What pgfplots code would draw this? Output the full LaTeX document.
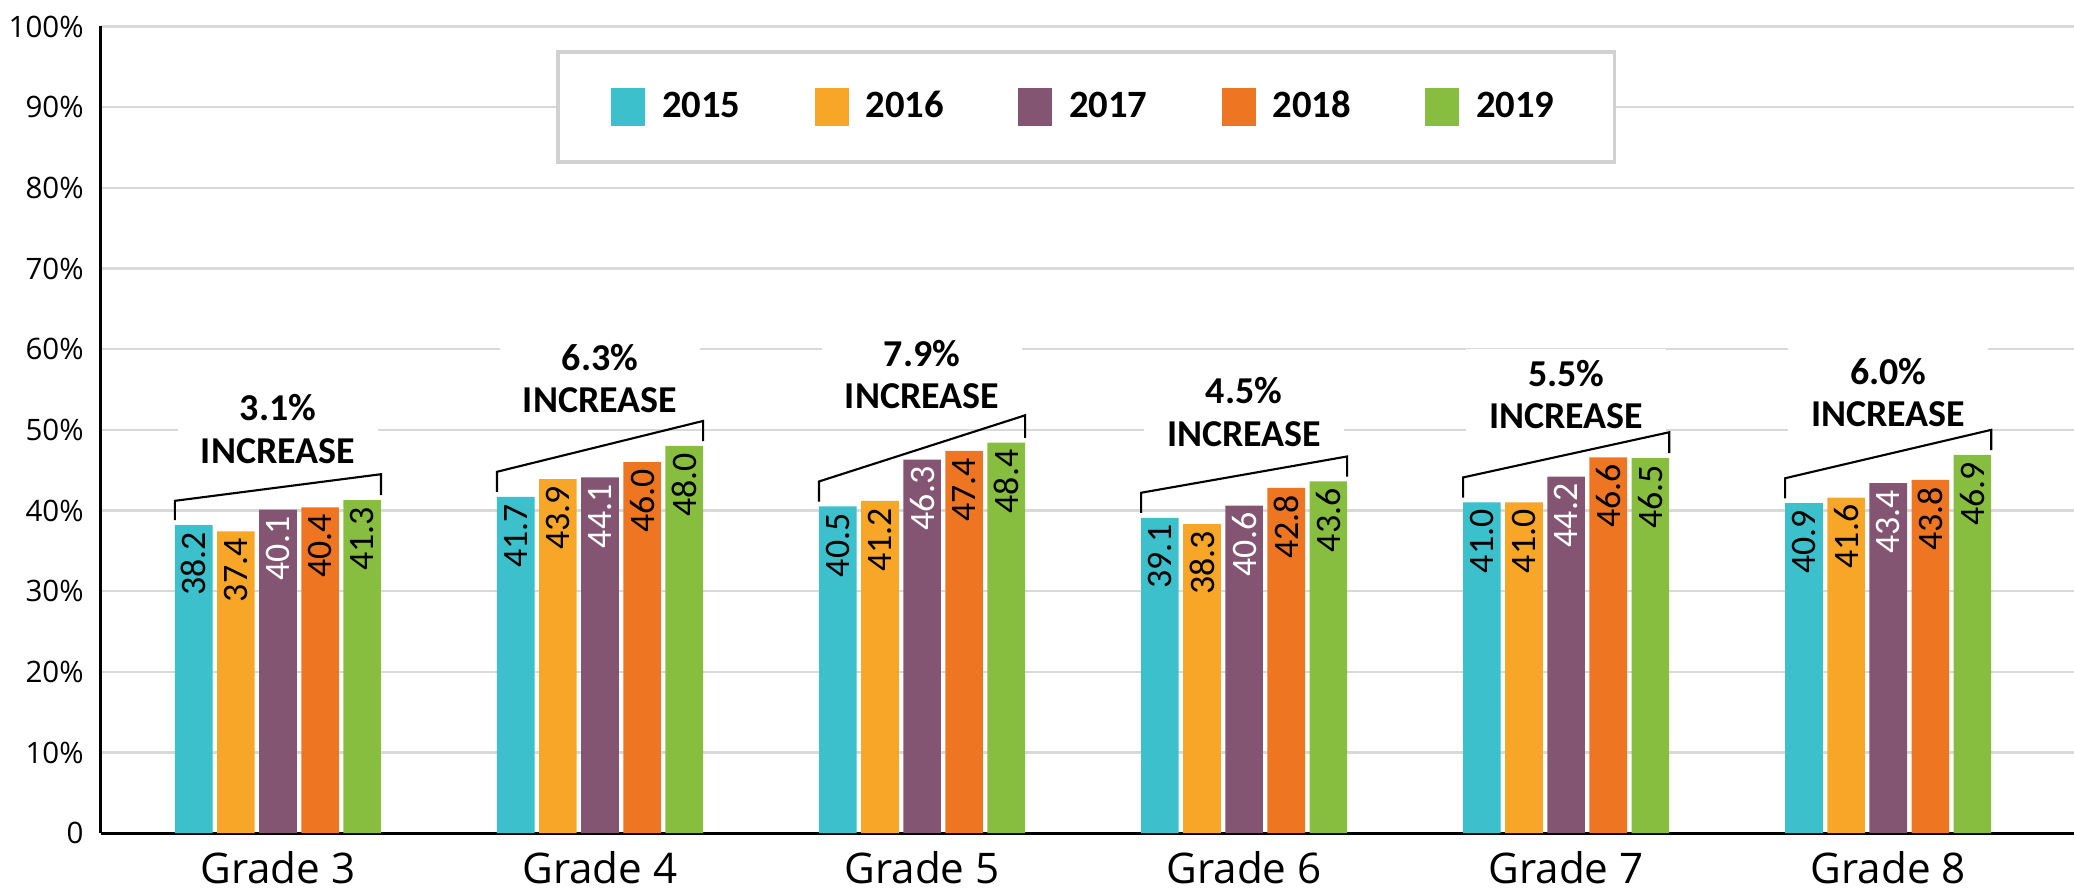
\documentclass[border=0pt]{standalone}
\usepackage{fontspec}
\setmainfont{Open Sans}
\newfontfamily\carl{Carlito}
\usepackage{pgfplots}
\pgfplotsset{compat=1.18}
\definecolor{c15}{HTML}{3BC0CC}
\definecolor{c16}{HTML}{F8A628}
\definecolor{c17}{HTML}{835572}
\definecolor{c18}{HTML}{EE7623}
\definecolor{c19}{HTML}{88BE3F}
\begin{document}
\begin{tikzpicture}
\begin{axis}[
  scale only axis, width=19.73cm, height=8.065cm,
  xmin=-0.551, xmax=5.577, ymin=0, ymax=100,
  ybar=0.45mm, bar width=3.76mm,
  axis x line=bottom, axis y line=left,
  axis line style={-, black, line width=0.9pt},
  xtick={0,1,2,3,4,5},
  xticklabels={Grade 3,Grade 4,Grade 5,Grade 6,Grade 7,Grade 8},
  ytick={0,10,...,100},
  yticklabels={0,10\%,20\%,30\%,40\%,50\%,60\%,70\%,80\%,90\%,100\%},
  major tick length=0pt,
  ymajorgrids, grid style={black!15, line width=0.6pt},
  xticklabel style={font=\fontsize{12}{14}\selectfont, yshift=-0.6mm},
  yticklabel style={font=\fontsize{8.4}{10}\selectfont, xshift=-0.45mm},
  nodes near coords={\pgfmathprintnumber[fixed,fixed zerofill,precision=1,assume math mode=true]{\pgfplotspointmeta}},
  every node near coord/.append style={rotate=90, anchor=east, font=\carl\fontsize{10.2}{11}\selectfont, inner sep=1.8pt, text=black},
  legend columns=5,
  legend image code/.code={\fill[#1] (0cm,-0.19cm) rectangle (0.34cm,0.19cm); \path (0.44cm,0);},
  legend style={at={(0.4995,0.9)}, anchor=center, draw=black!18, line width=1pt, fill=white,
    font=\carl\bfseries\fontsize{11}{12}\selectfont, inner xsep=5.3mm, inner ysep=3.2mm,
    /tikz/every even column/.append style={column sep=6.7mm}},
]
\addplot[fill=c15, draw=none] coordinates {(0,38.2) (1,41.7) (2,40.5) (3,39.1) (4,41.0) (5,40.9)};
\addplot[fill=c16, draw=none] coordinates {(0,37.4) (1,43.9) (2,41.2) (3,38.3) (4,41.0) (5,41.6)};
\addplot[fill=c17, draw=none, every node near coord/.append style={text=white}] coordinates {(0,40.1) (1,44.1) (2,46.3) (3,40.6) (4,44.2) (5,43.4)};
\addplot[fill=c18, draw=none] coordinates {(0,40.4) (1,46.0) (2,47.4) (3,42.8) (4,46.6) (5,43.8)};
\addplot[fill=c19, draw=none] coordinates {(0,41.3) (1,48.0) (2,48.4) (3,43.6) (4,46.5) (5,46.9)};
\legend{2015,2016,2017,2018,2019}
\tikzset{inc/.style={fill=white, text width=2.0cm, align=center, inner xsep=0pt, inner ysep=3pt,
  font=\carl\bfseries\fontsize{10.8}{12}\selectfont}}
\node[inc] at (axis cs:0,50.1) {3.1\%\\INCREASE};
\node[inc] at (axis cs:1,56.4) {6.3\%\\INCREASE};
\node[inc] at (axis cs:2,56.9) {7.9\%\\INCREASE};
\node[inc] at (axis cs:3,52.2) {4.5\%\\INCREASE};
\node[inc] at (axis cs:4,54.4) {5.5\%\\INCREASE};
\node[inc] at (axis cs:5,54.6) {6.0\%\\INCREASE};
\draw[line width=0.6pt] (axis cs:-0.32,38.8)--(axis cs:-0.32,41.2)--(axis cs:0.32,44.5)--(axis cs:0.32,41.9);
\draw[line width=0.6pt] (axis cs:0.68,42.3)--(axis cs:0.68,44.8)--(axis cs:1.32,51.1)--(axis cs:1.32,48.6);
\draw[line width=0.6pt] (axis cs:1.68,41.1)--(axis cs:1.68,43.6)--(axis cs:2.32,51.8)--(axis cs:2.32,49.0);
\draw[line width=0.6pt] (axis cs:2.68,39.7)--(axis cs:2.68,42.2)--(axis cs:3.32,46.7)--(axis cs:3.32,44.2);
\draw[line width=0.6pt] (axis cs:3.68,41.6)--(axis cs:3.68,44.1)--(axis cs:4.32,49.7)--(axis cs:4.32,47.1);
\draw[line width=0.6pt] (axis cs:4.68,41.5)--(axis cs:4.68,44.0)--(axis cs:5.32,50.0)--(axis cs:5.32,47.5);
\end{axis}
\pgfresetboundingbox
\path[use as bounding box] (-1.005cm,-0.6cm) rectangle (19.73cm,8.33cm);
\end{tikzpicture}
\end{document}
